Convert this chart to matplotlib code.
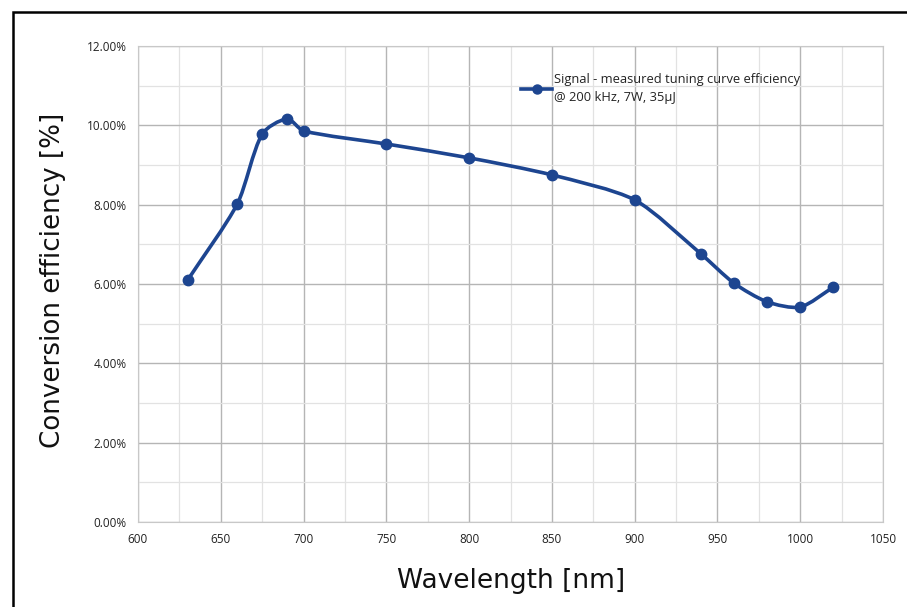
import numpy as np
import matplotlib
matplotlib.use("Agg")
import matplotlib.pyplot as plt
from matplotlib.path import Path
from matplotlib.patches import PathPatch, Rectangle
from matplotlib.ticker import FixedLocator, FuncFormatter
from matplotlib.lines import Line2D

wavelength = [630, 660, 675, 690, 700, 750, 800, 850, 900, 940, 960, 980, 1000, 1020]
efficiency = [6.10, 8.02, 9.78, 10.16, 9.86, 9.53, 9.18, 8.75, 8.12, 6.76, 6.02, 5.55, 5.42, 5.92]
x_ticks = [600, 650, 700, 750, 800, 850, 900, 950, 1000, 1050]
y_ticks = [0, 2, 4, 6, 8, 10, 12]
legend_text = "Signal - measured tuning curve efficiency\n@ 200 kHz, 7W, 35µJ"

color = "#1d4590"

fig = plt.figure(figsize=(9.07, 6.07), dpi=100)
fig.patch.set_facecolor("white")
ax = fig.add_axes([138/907, 1-522/607, (883-138)/907, (522-46)/607])
ax.set_xlim(600, 1050)
ax.set_ylim(0, 12)

# smoothed curve (bezier, handles proportional to segment length) in screen-proportional space
sx = 745/450.0   # px per nm
sy = 476/12.0    # px per %
P = np.column_stack([np.array(wavelength, float) * sx, np.array(efficiency, float) * sy])
n = len(P)
k = 0.25
tang = []
for i in range(n):
    a = P[i-1] if i > 0 else P[i]
    b = P[i+1] if i < n - 1 else P[i]
    d = b - a
    tang.append(d / np.linalg.norm(d))
verts = [tuple(P[0])]; codes = [Path.MOVETO]
for i in range(n - 1):
    L = np.linalg.norm(P[i+1] - P[i])
    c1 = P[i] + tang[i] * L * k
    c2 = P[i+1] - tang[i+1] * L * k
    verts += [tuple(c1), tuple(c2), tuple(P[i+1])]; codes += [Path.CURVE4]*3
verts = [(vx / sx, vy / sy) for vx, vy in verts]
ax.add_patch(PathPatch(Path(verts, codes), fill=False, edgecolor=color, lw=2.6, zorder=3,
                       capstyle="round", joinstyle="round"))
ax.plot(wavelength, efficiency, "o", color=color, ms=7.5, zorder=4)

ax.xaxis.set_major_locator(FixedLocator(x_ticks))
ax.yaxis.set_major_locator(FixedLocator(y_ticks))
ax.xaxis.set_minor_locator(FixedLocator(np.arange(600, 1051, 25)))
ax.yaxis.set_minor_locator(FixedLocator(np.arange(0, 12.1, 1)))
ax.yaxis.set_major_formatter(FuncFormatter(lambda v, p: f"{v:.2f}%"))
ax.grid(which="major", color="#b5b5b5", lw=1.0)
ax.grid(which="minor", color="#e2e2e2", lw=0.9)
ax.set_axisbelow(True)
for s in ax.spines.values():
    s.set_color("#c8c8c8")
ax.tick_params(which="both", length=0, labelsize=8.5, pad=8)
for lab in ax.get_xticklabels() + ax.get_yticklabels():
    lab.set_family("Open Sans")
    lab.set_color("#222222")

ax.set_xlabel("Wavelength [nm]", fontsize=19, family="DejaVu Sans", color="#111111")
ax.set_ylabel("Conversion efficiency [%]", fontsize=18.8, family="DejaVu Sans", color="#111111")
ax.xaxis.set_label_coords((511-138)/745, (522-568)/476)
ax.yaxis.set_label_coords((66-138)/745, (522-280)/476)

h = Line2D([], [], color=color, lw=2.6, marker="o", ms=6.5)
leg = ax.legend([h], [legend_text], loc="upper left", bbox_to_anchor=((516-138)/745, 1-(68-46)/476),
                frameon=False, handlelength=2.4, handletextpad=0.15, borderaxespad=0,
                prop={"family": "Open Sans", "size": 9.3})
for txt in leg.get_texts():
    txt.set_linespacing(1.5)
    txt.set_color("#222222")

fig.patches.append(Rectangle((13/907, -0.1), 1.2, 1.1 - 12/607, transform=fig.transFigure,
                             fill=False, edgecolor="black", lw=1.8))

fig.savefig("out.png", dpi=100)
